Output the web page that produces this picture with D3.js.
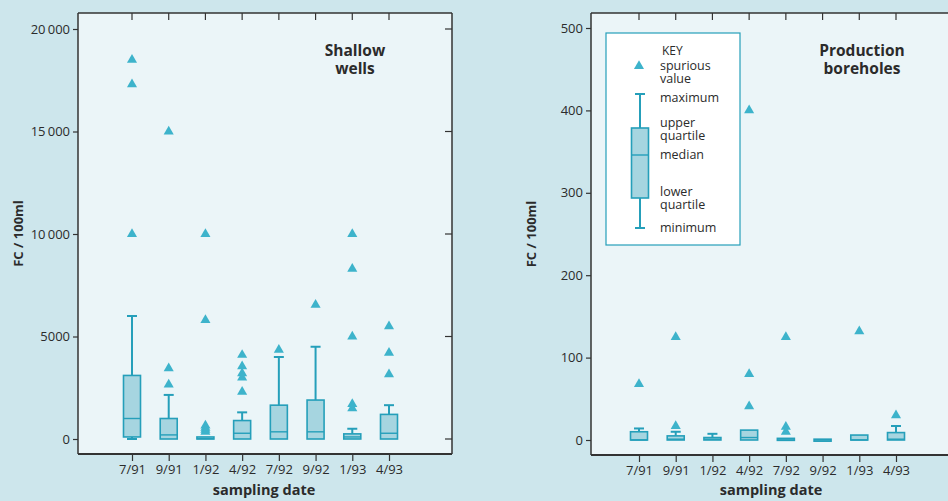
<!DOCTYPE html>
<html>
<head>
<meta charset="utf-8">
<script src="https://cdn.jsdelivr.net/npm/d3@7"></script>
<style>
    body { margin: 0; background: #cde6ec; }
    svg { display: block; font-family: "Open Sans", sans-serif; }
</style>
</head>
<body>
<div id="chart"></div>
<script>
const dates = ["7/91", "9/91", "1/92", "4/92", "7/92", "9/92", "1/93", "4/93"];

// shallow wells, FC / 100ml
const shallowMin = [0, 0, 0, 0, 0, 0, 0, 0];
const shallowQ1 = [100, 0, 0, 0, 0, 0, 0, 0];
const shallowMed = [1000, 200, 20, 280, 350, 350, 100, 280];
const shallowQ3 = [3100, 1000, 100, 900, 1650, 1900, 250, 1200];
const shallowMax = [6000, 2150, 100, 1300, 4000, 4500, 500, 1650];
const shallowOut = [
    [18500, 17300, 10000],
    [15000, 3450, 2650],
    [10000, 5800, 650, 550, 450, 350],
    [4100, 3550, 3200, 3000, 2300],
    [4350],
    [6550],
    [10000, 8300, 5000, 1700, 1500],
    [5500, 4200, 3150]
];
const shallowTicks = [0, 5000, 10000, 15000, 20000];

// production boreholes, FC / 100ml
const prodMin = [0, 0, 0, 0, 0, 0, 0, 0];
const prodQ1 = [0, 0, 0, 0, 0, 0, 0, 0];
const prodMed = [0, 1, 1, 3, 0, 0, 0, 1];
const prodQ3 = [10, 5, 3, 12, 2, 1, 6, 9];
const prodMax = [14, 10, 7.5, 12, 2, 1, 6, 17];
const prodOut = [
    [68],
    [125, 17],
    [],
    [400, 80, 41],
    [125, 16, 10],
    [],
    [132],
    [30]
];
const prodTicks = [0, 100, 200, 300, 400, 500];

const width = 948;
const height = 501;

const teal = "#259fba";
const boxFill = "#a6d5e0";
const triFill = "#3db3cb";
const plotBg = "#ebf5f8";
const axisCol = "#333";
const textCol = "#2b2b2b";

const svg = d3.select("#chart")
    .append("svg")
    .attr("width", width)
    .attr("height", height);

svg.append("rect")
    .attr("width", width)
    .attr("height", height)
    .attr("fill", "#cde6ec");

const fmt = d => d >= 10000 ? d3.format("d")(d).replace(/(\d\d)(\d{3})$/, "$1\u2009$2") : String(d);

const triangle = d3.symbol().type(d3.symbolTriangle).size(44);

function drawPanel(p) {
    const g = svg.append("g");

    const x = d3.scalePoint()
        .domain(dates)
        .range([p.left + p.pad, p.left + p.pad + 257]);

    const y = d3.scaleLinear()
        .domain(p.domain)
        .range([p.zeroY, p.topY]);

    g.append("rect")
        .attr("x", p.left)
        .attr("y", p.top)
        .attr("width", p.right - p.left)
        .attr("height", p.bottom - p.top)
        .attr("fill", plotBg);

    const stats = dates.map((d, i) => ({
        date: d,
        min: p.min[i], q1: p.q1[i], med: p.med[i], q3: p.q3[i], max: p.max[i],
        out: p.out[i]
    }));

    const bw = 17;
    const cw = 10;

    const box = g.selectAll(".box")
        .data(stats)
        .join("g")
            .attr("class", "box");

    // whiskers
    box.filter(d => d.max > d.q3)
        .append("line")
            .attr("x1", d => x(d.date))
            .attr("x2", d => x(d.date))
            .attr("y1", d => y(d.q3))
            .attr("y2", d => y(d.max))
            .attr("stroke", teal)
            .attr("stroke-width", 2);

    box.filter(d => d.max > d.q3)
        .append("line")
            .attr("x1", d => x(d.date) - cw / 2)
            .attr("x2", d => x(d.date) + cw / 2)
            .attr("y1", d => y(d.max))
            .attr("y2", d => y(d.max))
            .attr("stroke", teal)
            .attr("stroke-width", 2);

    box.filter(d => d.min < d.q1)
        .append("line")
            .attr("x1", d => x(d.date) - cw / 2)
            .attr("x2", d => x(d.date) + cw / 2)
            .attr("y1", d => y(d.min))
            .attr("y2", d => y(d.min))
            .attr("stroke", teal)
            .attr("stroke-width", 2);

    box.filter(d => d.min < d.q1)
        .append("line")
            .attr("x1", d => x(d.date))
            .attr("x2", d => x(d.date))
            .attr("y1", d => y(d.min))
            .attr("y2", d => y(d.q1))
            .attr("stroke", teal)
            .attr("stroke-width", 2);

    box.append("rect")
        .attr("x", d => x(d.date) - bw / 2)
        .attr("y", d => y(d.q3))
        .attr("width", bw)
        .attr("height", d => Math.max(2, y(d.q1) - y(d.q3)))
        .attr("fill", boxFill)
        .attr("stroke", teal)
        .attr("stroke-width", 1.6);

    box.append("line")
        .attr("x1", d => x(d.date) - bw / 2)
        .attr("x2", d => x(d.date) + bw / 2)
        .attr("y1", d => y(d.med))
        .attr("y2", d => y(d.med))
        .attr("stroke", teal)
        .attr("stroke-width", 1.4);

    // spurious values
    g.selectAll(".out")
        .data(stats.flatMap(d => d.out.map(v => ({ date: d.date, v }))))
        .join("path")
            .attr("class", "out")
            .attr("d", triangle)
            .attr("transform", d => `translate(${x(d.date)},${y(d.v)})`)
            .attr("fill", triFill);

    // frame: top and right with inward ticks
    g.append("line")
        .attr("x1", p.left).attr("x2", p.right)
        .attr("y1", p.top).attr("y2", p.top)
        .attr("stroke", axisCol).attr("stroke-width", 1.5);
    g.append("line")
        .attr("x1", p.right).attr("x2", p.right)
        .attr("y1", p.top).attr("y2", p.bottom)
        .attr("stroke", axisCol).attr("stroke-width", 1.5);

    g.selectAll(".ttick")
        .data(dates)
        .join("line")
            .attr("x1", d => x(d)).attr("x2", d => x(d))
            .attr("y1", p.top).attr("y2", p.top + 7)
            .attr("stroke", axisCol).attr("stroke-width", 1.2);

    g.selectAll(".rtick")
        .data(p.ticks)
        .join("line")
            .attr("x1", p.right - 7).attr("x2", p.right)
            .attr("y1", d => y(d)).attr("y2", d => y(d))
            .attr("stroke", axisCol).attr("stroke-width", 1.2);

    // left axis
    const yAxis = g.append("g")
        .attr("transform", `translate(${p.left},0)`)
        .call(d3.axisLeft(y).tickValues(p.ticks).tickFormat(fmt).tickSize(5).tickPadding(3));
    yAxis.select(".domain").remove();
    yAxis.append("line")
        .attr("y1", p.top).attr("y2", p.bottom)
        .attr("stroke", axisCol).attr("stroke-width", 1.5);

    // bottom axis
    const xAxis = g.append("g")
        .attr("transform", `translate(0,${p.bottom})`)
        .call(d3.axisBottom(x).tickSize(7).tickPadding(4));
    xAxis.select(".domain").remove();
    xAxis.append("line")
        .attr("x1", p.left).attr("x2", p.right)
        .attr("stroke", axisCol).attr("stroke-width", 2);

    g.selectAll(".tick line").attr("stroke", axisCol).attr("stroke-width", 1.2);
    g.selectAll(".tick text")
        .attr("fill", textCol)
        .style("font-size", "13px")
        .style("font-family", "Open Sans");

    g.append("text")
        .attr("transform", `translate(${p.left - 60},${(p.top + p.bottom) / 2}) rotate(-90)`)
        .attr("text-anchor", "middle")
        .attr("dy", "0.35em")
        .attr("fill", textCol)
        .style("font-size", "13px")
        .style("font-weight", 700)
        .text("FC / 100ml");

    g.append("text")
        .attr("x", p.left + p.pad + 132)
        .attr("y", 495)
        .attr("text-anchor", "middle")
        .attr("fill", textCol)
        .style("font-size", "14.5px")
        .style("font-weight", 700)
        .text("sampling date");

    const title = g.append("text")
        .attr("x", p.titleX)
        .attr("y", 56)
        .attr("text-anchor", "middle")
        .attr("fill", textCol)
        .style("font-size", "15.5px")
        .style("font-weight", 700);
    title.selectAll("tspan")
        .data(p.title)
        .join("tspan")
            .attr("x", p.titleX)
            .attr("dy", (_, i) => i === 0 ? 0 : 18)
            .text(d => d);
}

drawPanel({
    left: 78, right: 452, top: 13, bottom: 454, pad: 54,
    domain: [0, 20000], zeroY: 439, topY: 29,
    ticks: shallowTicks,
    min: shallowMin, q1: shallowQ1, med: shallowMed, q3: shallowQ3, max: shallowMax, out: shallowOut,
    title: ["Shallow", "wells"], titleX: 355
});

drawPanel({
    left: 591, right: 968, top: 13, bottom: 455, pad: 48,
    domain: [0, 500], zeroY: 440, topY: 28,
    ticks: prodTicks,
    min: prodMin, q1: prodQ1, med: prodMed, q3: prodQ3, max: prodMax, out: prodOut,
    title: ["Production", "boreholes"], titleX: 862
});

// key
const key = svg.append("g");

key.append("rect")
    .attr("x", 606).attr("y", 33)
    .attr("width", 134).attr("height", 212)
    .attr("fill", "#fff")
    .attr("stroke", teal)
    .attr("stroke-width", 1.2);

const kx = 640;
key.append("path")
    .attr("d", triangle)
    .attr("transform", `translate(${kx - 1},66)`)
    .attr("fill", triFill);

key.append("line").attr("x1", kx).attr("x2", kx).attr("y1", 94).attr("y2", 228)
    .attr("stroke", teal).attr("stroke-width", 2);
[94, 228].forEach(v => key.append("line")
    .attr("x1", kx - 5).attr("x2", kx + 5).attr("y1", v).attr("y2", v)
    .attr("stroke", teal).attr("stroke-width", 2));
key.append("rect")
    .attr("x", kx - 8.5).attr("y", 128)
    .attr("width", 17).attr("height", 70)
    .attr("fill", boxFill).attr("stroke", teal).attr("stroke-width", 1.6);
key.append("line").attr("x1", kx - 8.5).attr("x2", kx + 8.5).attr("y1", 155).attr("y2", 155)
    .attr("stroke", teal).attr("stroke-width", 1.4);

const keyLabels = [
    { lines: ["KEY"], x: 662, y: 55, s: 12 },
    { lines: ["spurious", "value"], x: 660, y: 70 },
    { lines: ["maximum"], x: 660, y: 102 },
    { lines: ["upper", "quartile"], x: 660, y: 127 },
    { lines: ["median"], x: 660, y: 159 },
    { lines: ["lower", "quartile"], x: 660, y: 196 },
    { lines: ["minimum"], x: 660, y: 232 }
];

const klabels = key.selectAll(".klabel")
    .data(keyLabels)
    .join("text")
        .attr("class", "klabel")
        .attr("x", d => d.x)
        .attr("y", d => d.y)
        .attr("fill", textCol)
        .style("font-size", d => (d.s || 12.5) + "px");

klabels.selectAll("tspan")
    .data(d => d.lines.map(l => ({ l, x: d.x })))
    .join("tspan")
        .attr("x", d => d.x)
        .attr("dy", (_, i) => i === 0 ? 0 : 13)
        .text(d => d.l);
</script>
</body>
</html>
